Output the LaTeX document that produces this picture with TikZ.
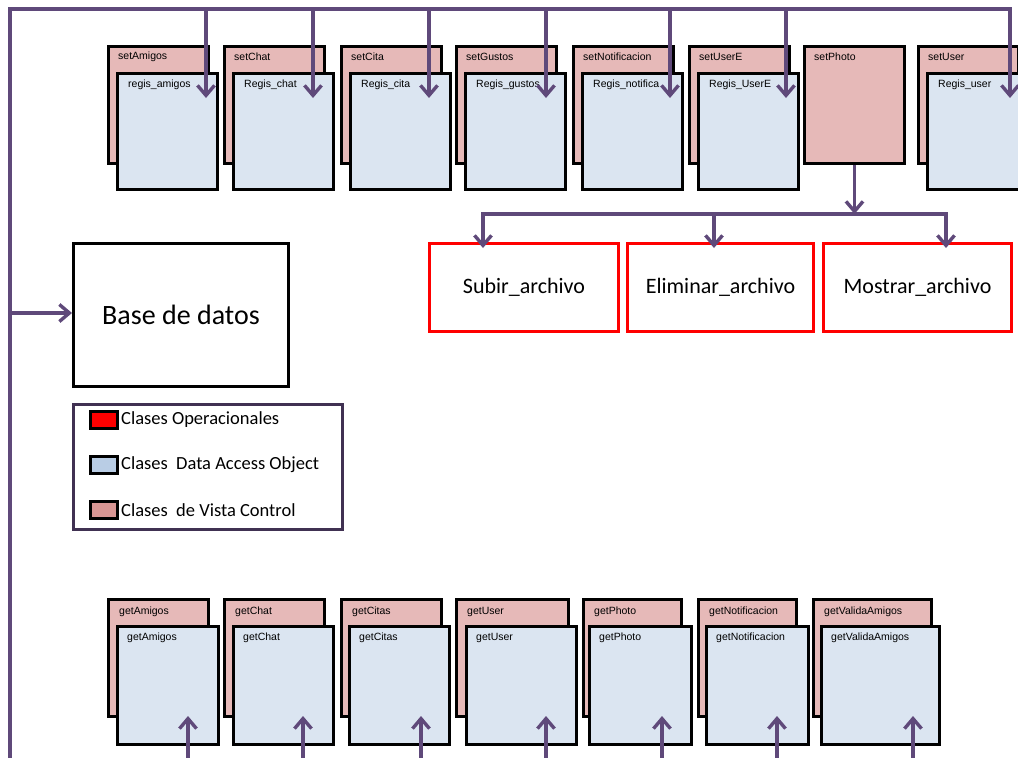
\documentclass[tikz,border=0pt]{standalone}
\usepackage{fontspec}
\setmainfont{Liberation Sans}
\newfontfamily\calib{Carlito}
\usetikzlibrary{arrows.meta}

\definecolor{vcpink}{HTML}{E6B9B8}
\definecolor{daoblue}{HTML}{DBE5F1}
\definecolor{keyblue}{HTML}{B9CDE5}
\definecolor{keypink}{HTML}{D99694}
\definecolor{opred}{HTML}{FF0000}
\definecolor{flowpurple}{HTML}{5F497A}
\definecolor{keyframe}{HTML}{403152}

\begin{document}
\begin{tikzpicture}[x=1pt,y=-1pt,
  vcbox/.style={draw=black, line width=3pt, fill=vcpink, anchor=north west,
    inner sep=0pt, minimum height=117pt},
  daobox/.style={draw=black, line width=3pt, fill=daoblue, anchor=north west,
    inner sep=0pt, minimum height=117pt},
  boxlabel/.style={anchor=west, inner sep=0pt, font=\fontsize{10.5}{12}\selectfont},
  flow/.style={draw=flowpurple, line width=3.2pt, line join=miter},
  barb/.tip={Straight Barb[length=10pt,width=17pt,line width=3.4pt]},
  flowarrow/.style={flow, -barb},
  opbox/.style={draw=opred, line width=3pt, fill=white, anchor=north west,
    inner sep=0pt, minimum width=189pt, minimum height=88pt,
    font=\calib\fontsize{22}{26}\selectfont},
  swatch/.style={draw=black, line width=2.5pt, minimum width=27pt,
    minimum height=17pt, inner sep=0pt},
  keytext/.style={anchor=west, inner sep=0pt, font=\calib\fontsize{18.5}{22}\selectfont}
]
\clip (0,0) rectangle (1018,758);
\fill[white] (0,0) rectangle (1018,758);

% ---- setter classes (view/control over DAO) ----
\foreach \n/\px/\pl/\bl in {
  sA/107/setAmigos/regis\_amigos,
  sC/223/setChat/Regis\_chat,
  sCi/340/setCita/Regis\_cita,
  sG/455/setGustos/Regis\_gustos,
  sN/572/setNotificacion/Regis\_notifica,
  sUE/688/setUserE/Regis\_UserE,
  sU/917/setUser/Regis\_user}{
  \node[vcbox, minimum width=100pt] (\n) at (\px,45) {};
  \node[boxlabel] (\n-t) at (\px+11,57) {\pl};
  \node[daobox, minimum width=100pt, minimum height=116pt] (\n-d) at (\px+9,72) {};
  \node[boxlabel] (\n-dt) at (\px+21,85) {\bl};
}
\node[vcbox, minimum width=100pt] (sP) at (803,45) {};
\node[boxlabel] (sP-t) at (814,57) {setPhoto};

% ---- getter classes ----
\foreach \n/\px/\pw/\bx/\bw/\pl in {
  gA/107/100/116/101/getAmigos,
  gC/223/100/232/100/getChat,
  gCi/340/100/348/100/getCitas,
  gU/455/112/465/110/getUser,
  gP/582/98/588/102/getPhoto,
  gN/697/98/705/102/getNotificacion,
  gV/812/118/820/118/getValidaAmigos}{
  \node[vcbox, minimum width=\pw pt] (\n) at (\px,598) {};
  \node[boxlabel] (\n-t) at (\px+12,612) {\pl};
  \node[daobox, minimum width=\bw pt, minimum height=118pt] (\n-d) at (\bx,625) {};
  \node[boxlabel] (\n-dt) at (\bx+11,638) {\pl};
}

% ---- operational classes ----
\node[opbox] (subir) at (428,242) {Subir\_archivo};
\node[opbox, minimum width=186pt] (elim) at (626,242) {Eliminar\_archivo};
\node[opbox, minimum width=188pt] (most) at (822,242) {Mostrar\_archivo};

% ---- database ----
\node[draw=black, line width=3pt, anchor=north west, minimum width=215pt,
  minimum height=143pt, inner sep=0pt, font=\calib\fontsize{28}{32}\selectfont]
  (db) at (72,242) {Base de datos};

% ---- key ----
\node[draw=keyframe, line width=3pt, anchor=north west, minimum width=269pt,
  minimum height=125pt, inner sep=0pt] (key) at (72,403) {};
\node[swatch, fill=opred] (kOp) at (104,420) {};
\node[keytext] (kOp-t) at (121,420) {Clases Operacionales};
\node[swatch, fill=keyblue] (kDao) at (104,465) {};
\node[keytext] (kDao-t) at (121,465) {Clases\ \ Data Access Object};
\node[swatch, fill=keypink] (kVc) at (104,510) {};
\node[keytext] (kVc-t) at (121,510) {Clases\ \ de Vista Control};

% ---- main bus: left side and top ----
\coordinate (busBottom) at (10,770);
\coordinate (busCorner) at (10,9);
\coordinate (busRight) at (1010,9);
\coordinate (sU-in) at (1010,98);
\coordinate (dbTap) at (10,313);
\draw[flowarrow] (busBottom) -- (busCorner) -- (busRight) -- (sU-in);
\draw[flowarrow] (dbTap) -- (dbTap -| db.west);

\foreach \n/\ax in {sA/206, sC/313, sCi/429, sG/546, sN/670, sUE/786}{
  \coordinate (\n-tap) at (\ax,9);
  \coordinate (\n-in) at (\ax,98);
  \draw[flowarrow] (\n-tap) -- (\n-in);
}

% ---- setPhoto fan-out ----
\coordinate (fanMid) at (sP.south |- 0,214);
\coordinate (fanL) at (483,214);
\coordinate (fanC) at (714,214);
\coordinate (fanR) at (946,214);
\coordinate (subir-in) at (483,248);
\coordinate (elim-in) at (714,248);
\coordinate (most-in) at (946,248);
\draw[flowarrow] (sP.south) -- (fanMid);
\draw[flow, barb-barb] (subir-in) -- (fanL) -- (fanR) -- (most-in);
\draw[flowarrow] (fanC) -- (elim-in);

% ---- incoming lines from below to the getters ----
\foreach \n/\ax in {gA/188, gC/303, gCi/421, gU/546, gP/662, gN/777, gV/913}{
  \coordinate (\n-src) at (\ax,770);
  \coordinate (\n-in) at (\ax,716);
  \draw[flowarrow] (\n-src) -- (\n-in);
}
\end{tikzpicture}
\end{document}
